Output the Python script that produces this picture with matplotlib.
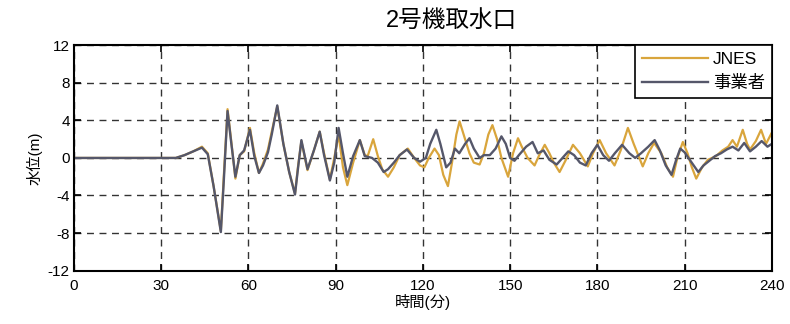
import matplotlib.pyplot as plt

plt.rcParams['font.family'] = ['Liberation Sans', 'Noto Sans CJK JP']

# JNES の水位 (時間[分], 水位[m])
jnes_t = [0, 35, 38, 41, 44, 46, 48, 50.5, 51.5, 52.8, 54, 55.5, 57, 58.5, 60.5, 62, 63.6, 65,
          66.7, 68, 69.9, 72, 74, 76, 77, 78.2, 80.3, 82.5, 84.5, 86, 88, 89.5, 91, 92.5, 94,
          96, 98.3, 100, 101, 102.9, 104.5, 106, 108, 110, 112, 114.8, 117, 119, 120.5, 122,
          124, 125.5, 127, 128.6, 130, 131.5, 132.6, 134, 136, 137.5, 139.5, 141, 142.5, 143.9,
          145.5, 147, 149.3, 151, 152.7, 154, 156, 158.4, 160, 161.9, 163.5, 165, 167, 169,
          171.6, 174, 176.7, 178.5, 180.8, 183, 185.9, 188, 190.5, 192.5, 195.6, 197.5, 199.5,
          202, 204, 206, 207.5, 209.4, 211, 212.5, 214, 216, 218, 220.8, 223, 225, 226.5, 228,
          230, 231.5, 232.5, 234.5, 236.3, 238, 240]
jnes_v = [0, 0, 0.3, 0.7, 1.2, 0.5, -3, -7.8, -2, 5.2, 2, -2.2, 0.3, 0.7, 3.2, 0.5, -1.6, -0.6,
          0.9, 2.8, 5.5, 1.5, -1.5, -3.8, -1, 1.8, -1.3, 0.8, 2.8, 0.5, -2.3, 0, 2.5, -1, -2.9,
          -0.5, 1.9, 0.3, 0.2, 2.0, 0.2, -1.2, -2.0, -1, 0.3, 1.0, 0, -0.8, -1.0, 0,
          1.0, 0.3, -1.8, -3.0, -0.5, 2.5, 3.9, 2.5, 0.5, -0.5, -0.7, 0.5, 2.5, 3.5,
          2, 0, -2.0, 0.5, 2.1, 1.2, 0, -0.8, 0.3, 1.4, 0.5, -0.5, -1.5, -0.3,
          1.4, 0.5, -0.9, 0.5, 1.9, 0.5, -0.8, 0.8, 3.2, 1.5, -0.9, 0.5, 1.6,
          0.5, -1.0, -2.0, 0, 1.7, 0.5, -1, -2.2, -1, -0.2, 0.2, 0.8, 1.2, 1.9, 1.2,
          3.0, 1.5, 0.9, 1.8, 3.0, 1.5, 2.7]

# 事業者 の水位
op_t = [0, 35, 38, 41, 44, 46, 48, 50.5, 51.5, 52.8, 54, 55.5, 57, 58.5, 60.5, 62, 63.6, 65,
        66.7, 68, 69.9, 72, 74, 76, 77, 78.2, 80.3, 82.5, 84.5, 86, 88, 89.5, 91, 92.5, 94,
        96, 98.3, 100, 102.5, 104.5, 106.5, 108, 110, 112, 114.5, 117, 119, 121, 122.5,
        124.6, 126, 128, 129.5, 131, 132.5, 134.5, 136, 137.5, 139.5, 141, 143, 145, 147,
        148.5, 150, 151.5, 153, 155.5, 157.7, 159.5, 161.5, 163.5, 166, 168, 170, 172, 174,
        176, 178, 180, 182, 184, 186, 188.5, 191, 193, 195, 197.5, 199.7, 201.5, 203.5,
        205.5, 207, 208.5, 210, 212, 214.7, 216.5, 218.5, 220.5, 222.5, 224.5, 226.5, 228.5,
        230.5, 232.5, 234.5, 236.5, 238.5, 240]
op_v = [0, 0, 0.3, 0.7, 1.1, 0.4, -3, -7.9, -2.5, 5.0, 1.8, -2.0, 0.3, 0.8, 3.0, 0.2, -1.6, -0.8,
        0.6, 2.5, 5.6, 1.5, -1.5, -3.9, -1.2, 1.9, -1.2, 0.8, 2.8, 0.3, -2.4, -0.5, 3.2, 0.5, -2.0,
        0.2, 1.9, 0.2, 0.0, -0.5, -1.5, -1.2, -0.5, 0.3, 0.9, 0, -0.4, 0, 1.5,
        3.0, 1.5, -1.0, -0.5, 1, 0.5, 1.5, 2.1, 1.0, 0, 0.3, 0.3, 1.0, 2.3,
        1.5, 0, -0.3, 0.3, 1.2, 1.7, 0.5, 0.8, -0.2, -0.7, 0.0, 0.7, 0.3, -0.5,
        -0.8, 0.5, 1.4, 0.3, -0.3, 0.5, 1.4, 0.5, 0, 0.5, 1.2, 1.9, 0.8, -0.8,
        -1.8, -0.3, 1.0, 0.6, -0.3, -1.5, -0.8, -0.3, 0.2, 0.5, 0.9, 1.2, 0.8,
        1.6, 0.7, 1.2, 1.8, 1.2, 1.5]

xticks = [0, 30, 60, 90, 120, 150, 180, 210, 240]
yticks = [-12, -8, -4, 0, 4, 8, 12]

fig = plt.figure(figsize=(7.9, 3.24), dpi=100)
ax = fig.add_axes([0.0937, 0.165, 0.8833, 0.695])

ax.plot(jnes_t, jnes_v, color='#d9a53c', lw=1.6, label='JNES')
ax.plot(op_t, op_v, color='#55576a', lw=1.7, label='事業者')

ax.set_xlim(0, 240)
ax.set_ylim(-12, 12)
ax.set_xticks(xticks)
ax.set_yticks(yticks)
ax.set_xticklabels([str(v) for v in xticks], fontsize=11)
ax.set_yticklabels([str(v) for v in yticks], fontsize=11)
ax.tick_params(direction='in', top=True, right=True, length=5, width=1.2, pad=6)
ax.tick_params(axis='y', pad=3)
ax.grid(True, color='#333333', linestyle=(0, (5, 4)), lw=1.0)
for s in ax.spines.values():
    s.set_linewidth(1.5)

ax.set_xlabel('時間(分)', fontsize=11, labelpad=1)
ax.set_ylabel('水位(m)', fontsize=11, labelpad=4)
fig.text(0.572, 0.935, '2号機取水口', fontsize=17, ha='center', va='center')

leg = ax.legend(loc='upper right', fontsize=12.5, fancybox=False, framealpha=1,
                edgecolor='black', handlelength=3.8, borderaxespad=0.0,
                handletextpad=0.3, borderpad=0.4, labelspacing=0.45)
leg.get_frame().set_linewidth(1.2)

fig.savefig('out.png', dpi=100)
